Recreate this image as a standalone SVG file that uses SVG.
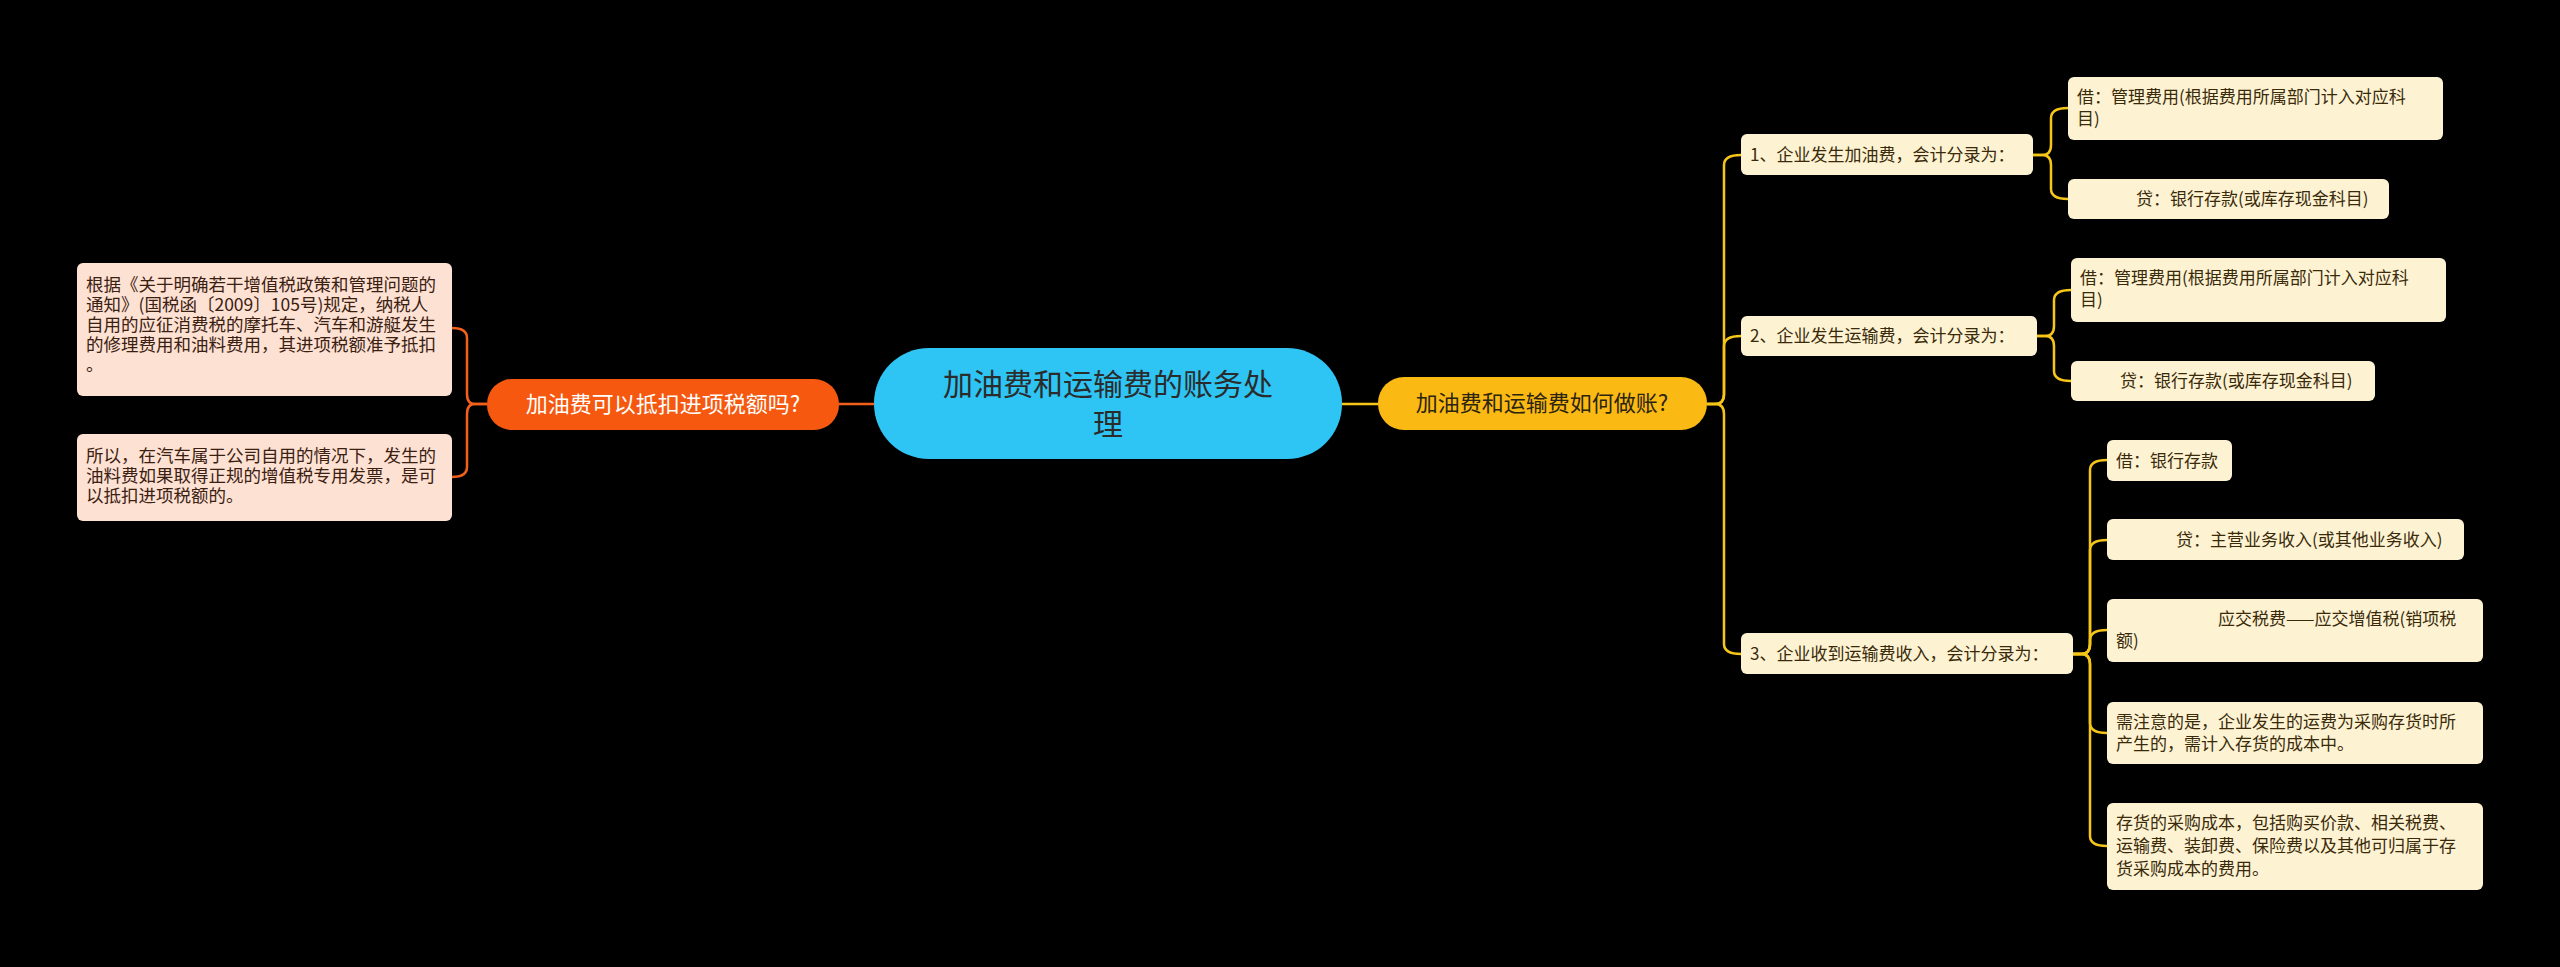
<svg xmlns="http://www.w3.org/2000/svg" width="2560" height="967" viewBox="0 0 2560 967">
<style>
text{font-family:"Noto Sans CJK SC","Liberation Sans",sans-serif;}
.c{fill:#fdf3d3;}
.p{fill:#fde1d3;}
.t{font-size:17px;fill:#3a2a0a;}
.tp{font-size:17.5px;fill:#3a2010;}
.y{fill:none;stroke:#f5c518;stroke-width:2.5;}
.o{fill:none;stroke:#f2601c;stroke-width:2.5;}
</style>
<rect width="2560" height="967" fill="#000"/>
<g id="connectors">
<path class="o" d="M874 404H839"/>
<path class="y" d="M1342 404H1378"/>
<path class="o" d="M487 404H475Q467 404 467 394V338Q467 328 452 328"/>
<path class="o" d="M487 404H475Q467 404 467 414V467Q467 477 452 477"/>
<path class="y" d="M1707 404H1715Q1724 404 1724 394V165Q1724 155 1741 155"/>
<path class="y" d="M1707 404H1715Q1724 404 1724 394V346Q1724 336 1741 336"/>
<path class="y" d="M1707 404H1715Q1724 404 1724 414V644Q1724 654 1741 654"/>
<path class="y" d="M2033 155H2042Q2051 155 2051 145V118Q2051 108 2068 108"/>
<path class="y" d="M2033 155H2042Q2051 155 2051 165V189Q2051 199 2068 199"/>
<path class="y" d="M2037 336H2045Q2054 336 2054 326V300Q2054 290 2071 290"/>
<path class="y" d="M2037 336H2045Q2054 336 2054 346V371Q2054 381 2071 381"/>
<path class="y" d="M2073 654H2081Q2090 654 2090 644V470Q2090 460 2107 460"/>
<path class="y" d="M2073 654H2081Q2090 654 2090 644V550Q2090 540 2107 540"/>
<path class="y" d="M2073 654H2081Q2090 654 2090 644V640Q2090 630 2107 630"/>
<path class="y" d="M2073 654H2081Q2090 654 2090 664V723Q2090 733 2107 733"/>
<path class="y" d="M2073 654H2081Q2090 654 2090 664V836Q2090 846 2107 846"/>
</g>
<g id="center">
<rect x="874" y="348" width="468" height="111" rx="55" fill="#2ec4f3"/>
<text x="1108" y="395" font-size="30" fill="#2b2b2b" text-anchor="middle">加油费和运输费的账务处</text>
<text x="1108" y="435" font-size="30" fill="#2b2b2b" text-anchor="middle">理</text>
</g>
<g id="left-main">
<rect x="487" y="379" width="352" height="51" rx="25" fill="#f5580e"/>
<text x="663" y="412" font-size="22" fill="#fff" text-anchor="middle">加油费可以抵扣进项税额吗?</text>
</g>
<g id="note1">
<rect class="p" x="77" y="263" width="375" height="133" rx="6"/>
<text class="tp" x="86" y="291">根据《关于明确若干增值税政策和管理问题的</text>
<text class="tp" x="86" y="311">通知》(国税函〔2009〕105号)规定，纳税人</text>
<text class="tp" x="86" y="331">自用的应征消费税的摩托车、汽车和游艇发生</text>
<text class="tp" x="86" y="351">的修理费用和油料费用，其进项税额准予抵扣</text>
<text class="tp" x="86" y="371">。</text>
</g>
<g id="note2">
<rect class="p" x="77" y="434" width="375" height="87" rx="6"/>
<text class="tp" x="86" y="462">所以，在汽车属于公司自用的情况下，发生的</text>
<text class="tp" x="86" y="482">油料费如果取得正规的增值税专用发票，是可</text>
<text class="tp" x="86" y="502">以抵扣进项税额的。</text>
</g>
<g id="right-main">
<rect x="1378" y="377" width="329" height="53" rx="26" fill="#fbb914"/>
<text x="1542" y="411" font-size="22" fill="#2b2410" text-anchor="middle">加油费和运输费如何做账?</text>
</g>
<g id="n1">
<rect class="c" x="1741" y="134" width="292" height="41" rx="6"/>
<text class="t" x="1750" y="161">1、企业发生加油费，会计分录为：</text>
</g>
<g id="n1a">
<rect class="c" x="2068" y="77" width="375" height="63" rx="6"/>
<text class="t" x="2077" y="103">借：管理费用(根据费用所属部门计入对应科</text>
<text class="t" x="2077" y="125">目)</text>
</g>
<g id="n1b">
<rect class="c" x="2068" y="179" width="321" height="40" rx="6"/>
<text class="t" x="2136" y="205">贷：银行存款(或库存现金科目)</text>
</g>
<g id="n2">
<rect class="c" x="1741" y="316" width="296" height="40" rx="6"/>
<text class="t" x="1750" y="342">2、企业发生运输费，会计分录为：</text>
</g>
<g id="n2a">
<rect class="c" x="2071" y="258" width="375" height="64" rx="6"/>
<text class="t" x="2080" y="284">借：管理费用(根据费用所属部门计入对应科</text>
<text class="t" x="2080" y="306">目)</text>
</g>
<g id="n2b">
<rect class="c" x="2071" y="361" width="304" height="40" rx="6"/>
<text class="t" x="2120" y="387">贷：银行存款(或库存现金科目)</text>
</g>
<g id="n3">
<rect class="c" x="1741" y="633" width="332" height="41" rx="6"/>
<text class="t" x="1750" y="660">3、企业收到运输费收入，会计分录为：</text>
</g>
<g id="n3a">
<rect class="c" x="2107" y="440" width="125" height="41" rx="6"/>
<text class="t" x="2116" y="467">借：银行存款</text>
</g>
<g id="n3b">
<rect class="c" x="2107" y="519" width="357" height="41" rx="6"/>
<text class="t" x="2176" y="546">贷：主营业务收入(或其他业务收入)</text>
</g>
<g id="n3c">
<rect class="c" x="2107" y="599" width="376" height="63" rx="6"/>
<text class="t" x="2218" y="625">应交税费——应交增值税(销项税</text>
<text class="t" x="2116" y="647">额)</text>
</g>
<g id="n3d">
<rect class="c" x="2107" y="702" width="376" height="62" rx="6"/>
<text class="t" x="2116" y="728">需注意的是，企业发生的运费为采购存货时所</text>
<text class="t" x="2116" y="750">产生的，需计入存货的成本中。</text>
</g>
<g id="n3e">
<rect class="c" x="2107" y="803" width="376" height="87" rx="6"/>
<text class="t" x="2116" y="829">存货的采购成本，包括购买价款、相关税费、</text>
<text class="t" x="2116" y="852">运输费、装卸费、保险费以及其他可归属于存</text>
<text class="t" x="2116" y="875">货采购成本的费用。</text>
</g>
</svg>
